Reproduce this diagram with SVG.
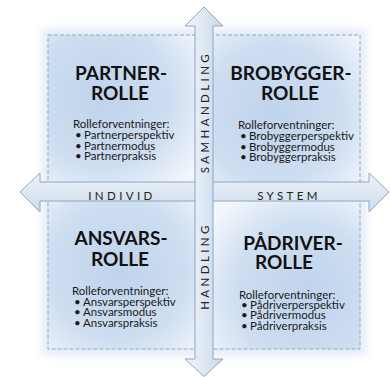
<svg xmlns="http://www.w3.org/2000/svg" width="390" height="377" viewBox="0 0 390 377">
<style>
.quad{stroke:#8faacb;stroke-width:1;stroke-dasharray:4 2}
.title{font-family:Lato,"Liberation Sans",sans-serif;font-weight:bold;font-size:19px;fill:#111;text-anchor:middle}
.body{font-family:Lato,"Liberation Sans",sans-serif;font-size:11.5px;fill:#1a1a1a}
.axis{font-family:Lato,"Liberation Sans",sans-serif;font-size:11.5px;fill:#222;letter-spacing:3.4px;text-anchor:middle}
.arrow{stroke:#8ea6c4;stroke-width:1}
</style>
<defs>
<radialGradient id="gTL" cx="0.35" cy="0.4" r="0.75">
<stop offset="0" stop-color="#bfd3ec"/><stop offset="0.6" stop-color="#cfdef1"/><stop offset="1" stop-color="#f3f7fc"/>
</radialGradient>
<radialGradient id="gTR" cx="0.45" cy="0.5" r="0.75">
<stop offset="0" stop-color="#bfd3ec"/><stop offset="0.6" stop-color="#cfdef1"/><stop offset="1" stop-color="#f3f7fc"/>
</radialGradient>
<radialGradient id="gBL" cx="0.45" cy="0.5" r="0.75">
<stop offset="0" stop-color="#bfd3ec"/><stop offset="0.6" stop-color="#cfdef1"/><stop offset="1" stop-color="#f3f7fc"/>
</radialGradient>
<radialGradient id="gBR" cx="0.65" cy="0.65" r="0.75">
<stop offset="0" stop-color="#bfd3ec"/><stop offset="0.6" stop-color="#cfdef1"/><stop offset="1" stop-color="#f3f7fc"/>
</radialGradient>
<linearGradient id="gH" x1="0" y1="0" x2="0" y2="1">
<stop offset="0" stop-color="#eef3f9"/><stop offset="1" stop-color="#cddbec"/>
</linearGradient>
<linearGradient id="gV" x1="0" y1="0" x2="1" y2="0">
<stop offset="0" stop-color="#f2f6fb"/><stop offset="1" stop-color="#c9d8eb"/>
</linearGradient>
<filter id="glow" x="-10%" y="-10%" width="120%" height="120%">
<feGaussianBlur stdDeviation="5"/>
</filter>
</defs>
<rect width="390" height="377" fill="#ffffff"/>
<rect x="42" y="29" width="324" height="326" fill="#e2ebf6" filter="url(#glow)"/>

<g id="partner-rolle">
<rect class="quad" x="48" y="35" width="156" height="156.5" fill="url(#gTL)"/>
<text class="title" x="121" y="80">PARTNER-</text>
<text class="title" x="120" y="100">ROLLE</text>
<text class="body"><tspan x="73" y="128">Rolleforventninger:</tspan><tspan x="75" y="139">•</tspan><tspan x="84">Partnerperspektiv</tspan><tspan x="75" y="149.5">•</tspan><tspan x="84">Partnermodus</tspan><tspan x="75" y="160">•</tspan><tspan x="84">Partnerpraksis</tspan></text>
</g>

<g id="brobygger-rolle">
<rect class="quad" x="204" y="35" width="156" height="156.5" fill="url(#gTR)"/>
<text class="title" x="291" y="80">BROBYGGER-</text>
<text class="title" x="290" y="100">ROLLE</text>
<text class="body"><tspan x="238" y="129">Rolleforventninger:</tspan><tspan x="240" y="140">•</tspan><tspan x="249">Brobyggerperspektiv</tspan><tspan x="240" y="150.5">•</tspan><tspan x="249">Brobyggermodus</tspan><tspan x="240" y="161">•</tspan><tspan x="249">Brobyggerpraksis</tspan></text>
</g>

<g id="ansvars-rolle">
<rect class="quad" x="48" y="191.5" width="156" height="157.5" fill="url(#gBL)"/>
<text class="title" x="121" y="245">ANSVARS-</text>
<text class="title" x="120" y="266">ROLLE</text>
<text class="body"><tspan x="72" y="295">Rolleforventninger:</tspan><tspan x="74" y="305.5">•</tspan><tspan x="83">Ansvarsperspektiv</tspan><tspan x="74" y="316">•</tspan><tspan x="83">Ansvarsmodus</tspan><tspan x="74" y="326.5">•</tspan><tspan x="83">Ansvarspraksis</tspan></text>
</g>

<g id="padriver-rolle">
<rect class="quad" x="204" y="191.5" width="156" height="157.5" fill="url(#gBR)"/>
<text class="title" x="293" y="250">PÅDRIVER-</text>
<text class="title" x="284" y="269">ROLLE</text>
<text class="body"><tspan x="239" y="299">Rolleforventninger:</tspan><tspan x="241" y="308.5">•</tspan><tspan x="250">Pådriverperspektiv</tspan><tspan x="241" y="319">•</tspan><tspan x="250">Pådrivermodus</tspan><tspan x="241" y="329.5">•</tspan><tspan x="250">Pådriverpraksis</tspan></text>
</g>

<g id="connectors">
<polygon class="arrow" fill="url(#gH)" points="20,192 40,173 40,182 369,182 369,173 389,192 369,212 369,201 40,201 40,212"/>
<polygon class="arrow" fill="url(#gV)" points="204,7 223,26 213,26 213,359 223,359 204,376.5 185,359 195,359 195,26 185,26"/>
<text class="axis" x="122" y="199.5">INDIVID</text>
<text class="axis" x="289" y="199.5">SYSTEM</text>
<text class="axis" transform="rotate(-90 208.5 112)" x="208.5" y="112">SAMHANDLING</text>
<text class="axis" transform="rotate(-90 208.5 266)" x="208.5" y="266">HANDLING</text>
</g>
</svg>
